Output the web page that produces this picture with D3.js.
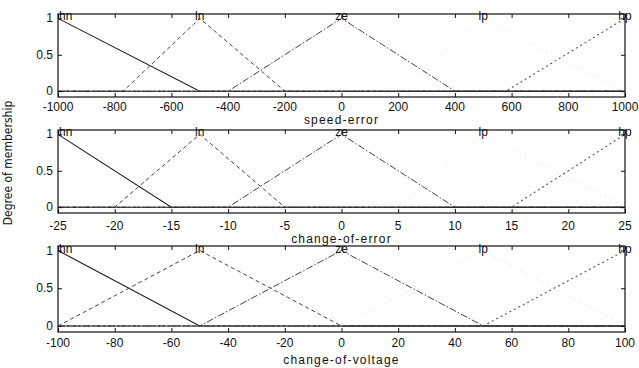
<!DOCTYPE html>
<html><head><meta charset="utf-8">
<script src="https://cdn.jsdelivr.net/npm/d3@7"></script>
<style>
body{margin:0;background:#fff;}
svg{display:block;}
text{font-family:"Liberation Sans",Arial,sans-serif;fill:#111;}
</style></head>
<body>
<svg id="c" width="639" height="368"></svg>
<script>
// ---- data ----
const mfNames = ["hn","ln","ze","lp","hp"];
const panelTitles = ["speed-error","change-of-error","change-of-voltage"];
const panelDomains = [[-1000,1000],[-25,25],[-100,100]];
const speedErrorTicks = [-1000,-800,-600,-400,-200,0,200,400,600,800,1000];
const changeOfErrorTicks = [-25,-20,-15,-10,-5,0,5,10,15,20,25];
const changeOfVoltageTicks = [-100,-80,-60,-40,-20,0,20,40,60,80,100];
const yTicks = [0,0.5,1];
const yTickLabels = ["0","0.5","1"];
// triangular MF breakpoints [a,b,c] per name
const speedErrorMF = [[-1000,-1000,-500],[-770,-500,-200],[-400,0,400],[200,500,1000],[580,1000,1000]];
const changeOfErrorMF = [[-25,-25,-15],[-20,-12.5,-5],[-10,0,10],[5,12.5,25],[15,25,25]];
const changeOfVoltageMF = [[-100,-100,-50],[-100,-50,0],[-50,0,50],[0,50,100],[50,100,100]];
const yLabel = "Degree of membership";

// ---- layout ----
const svg = d3.select("#c");
const X0 = 58, X1 = 625;
const layout = [
  {top:14, bottom:97, tickY:111, titleY:124},
  {top:130, bottom:213, tickY:230, titleY:243},
  {top:246, bottom:332, tickY:347, titleY:364}
];
const ylim = [-0.08, 1.06];
const styles = [
  {stroke:"#1a1a1a", dash:null, w:1.1},
  {stroke:"#444", dash:"4,3", w:1},
  {stroke:"#444", dash:"7,2,1.5,2", w:1},
  {stroke:"#eeeeee", dash:"3,3", w:1},
  {stroke:"#555", dash:"2,3", w:1.1}
];
const allTicks = [speedErrorTicks, changeOfErrorTicks, changeOfVoltageTicks];
const allMF = [speedErrorMF, changeOfErrorMF, changeOfVoltageMF];

function trimf(x,[a,b,c]){
  let l = (b===a) ? (x>=a?1:0) : (x-a)/(b-a);
  let r = (c===b) ? (x<=c?1:0) : (c-x)/(c-b);
  return Math.max(0, Math.min(l,r));
}

allMF.forEach((mfs, pi) => {
  const L = layout[pi];
  const dom = panelDomains[pi];
  const x = d3.scaleLinear().domain(dom).range([X0, X1]);
  const y = d3.scaleLinear().domain(ylim).range([L.bottom, L.top]);
  const g = svg.append("g");

  // MF lines
  mfs.forEach((p, i) => {
    const xs = Array.from(new Set([dom[0], ...p, dom[1]])).filter(v=>v>=dom[0]&&v<=dom[1]).sort((a,b)=>a-b);
    const pts = xs.map(v => [v, trimf(v,p)]);
    const line = d3.line().x(d=>x(d[0])).y(d=>y(d[1]));
    const s = styles[i];
    g.append("path").attr("d", line(pts)).attr("fill","none")
      .attr("stroke", s.stroke).attr("stroke-width", s.w)
      .attr("stroke-dasharray", s.dash);
  });
  // zero baseline
  g.append("line").attr("x1",x(dom[0])).attr("x2",x(dom[1]))
    .attr("y1",y(0)).attr("y2",y(0)).attr("stroke","#222").attr("stroke-width",1.1);

  // axes (ticks inward)
  const xb = d3.axisBottom(x).tickValues(allTicks[pi]).tickSize(-4).tickFormat("");
  const xt = d3.axisTop(x).tickValues(allTicks[pi]).tickSize(-4).tickFormat("");
  const yl = d3.axisLeft(y).tickValues(yTicks).tickSize(-4).tickFormat("");
  const yr = d3.axisRight(y).tickValues(yTicks).tickSize(-4).tickFormat("");
  [[xb,`translate(0,${L.bottom})`],[xt,`translate(0,${L.top})`],[yl,`translate(${X0},0)`],[yr,`translate(${X1},0)`]]
  .forEach(([ax,tr]) => {
    const a = g.append("g").attr("transform", tr).call(ax);
    a.select(".domain").remove();
    a.selectAll("line").attr("stroke","#111");
  });
  g.append("rect").attr("x",X0).attr("y",L.top).attr("width",X1-X0).attr("height",L.bottom-L.top)
    .attr("fill","none").attr("stroke","#111").attr("stroke-width",1.2);

  // tick labels
  g.selectAll(".xl").data(allTicks[pi]).join("text")
    .attr("x", d=>x(d)).attr("y", L.tickY).attr("text-anchor","middle")
    .attr("font-size", 12).text(d=>d);
  g.selectAll(".yl").data(yTicks).join("text")
    .attr("x", X0-5).attr("y", d=>y(d)+4).attr("text-anchor","end")
    .attr("font-size", 12).text((d,i)=>yTickLabels[i]);

  // MF labels (leftmost one kept inside the box, as in the reference)
  g.selectAll(".mfl").data(mfs).join("text")
    .attr("x", d=> d[1]===dom[0] ? X0+1 : x(d[1]))
    .attr("y", y(1)+2)
    .attr("text-anchor", d=> d[1]===dom[0] ? "start" : "middle")
    .attr("font-size", 12).text((d,i)=>mfNames[i]);

  // title
  g.append("text").attr("x", x(0)).attr("y", L.titleY).attr("text-anchor","middle")
    .attr("font-size", 12).attr("letter-spacing", 1.2).text(panelTitles[pi]);
});

svg.append("text").attr("transform","translate(12,163) rotate(-90)")
  .attr("text-anchor","middle").attr("font-size",12)
  .style("font-family","'Liberation Sans Narrow','DejaVu Sans Condensed',sans-serif")
  .text(yLabel);
</script>
</body></html>
